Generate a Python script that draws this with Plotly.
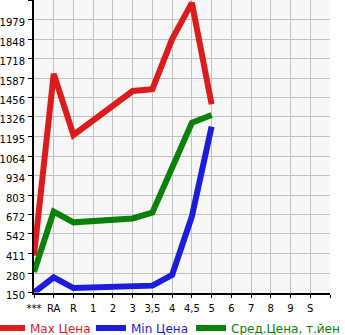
import plotly.graph_objects as go

categories = ["***", "RA", "R", "1", "2", "3", "3,5", "4", "4,5", "5", "6", "7", "8", "9", "S"]
max_price = [398, 1615, 1205, None, None, 1500, 1512, 1848, 2090, 1411, None, None, None, None, None]
min_price = [150, 252, 180, None, None, 190, 196, 268, 660, 1262, None, None, None, None, None]
avg_price = [288, 692, 620, None, None, 646, 686, 986, 1287, 1339, None, None, None, None, None]
y_ticks = [150, 280, 411, 542, 672, 803, 934, 1064, 1195, 1326, 1456, 1587, 1718, 1848, 1979]

x_idx = list(range(len(categories)))
font = "DejaVu Sans, Verdana, sans-serif"
W, H = 345, 335

series = [
    ("Max Цена", max_price, "#dc1c1c", "legend", 0, -10),
    ("Min Цена", min_price, "#1c1cdc", "legend2", 91, 0),
    ("Сред.Цена, т.йен", avg_price, "#0a820a", "legend3", 191, 0),
]

fig = go.Figure()
legends = {}
for name, vals, col, leg, lx, ind in series:
    fig.add_trace(go.Scatter(x=x_idx, y=vals, mode="lines", name=name, connectgaps=True,
                             line=dict(color=col, width=6), legend=leg))
    legends[leg] = dict(orientation="h", xref="container", yref="container",
                        x=lx / W, xanchor="left", y=1 - 328 / H, yanchor="middle",
                        font=dict(size=12, family=font, color=col), itemwidth=30,
                        indentation=ind,
                        bgcolor="rgba(0,0,0,0)", borderwidth=0)

top = y_ticks[-1] + (y_ticks[-1] - y_ticks[0]) / (len(y_ticks) - 1)
fig.update_layout(
    width=W, height=H,
    margin=dict(l=30, r=15, t=0, b=34),
    paper_bgcolor="white", plot_bgcolor="#f7f7f7",
    font=dict(family=font, size=10, color="black"),
    showlegend=True,
    **legends,
)

fig.update_xaxes(range=[0, len(categories)], tickmode="array",
                 tickvals=x_idx + [len(categories)], ticktext=categories + [""],
                 showgrid=True, gridcolor="#c0c0c0", gridwidth=1,
                 showline=True, linecolor="black", linewidth=2,
                 ticks="outside", ticklen=3, tickcolor="black", zeroline=False,
                 tickfont=dict(size=10), ticklabelstandoff=2)
fig.update_yaxes(range=[y_ticks[0], top], tickmode="array",
                 tickvals=y_ticks + [top], ticktext=[str(v) for v in y_ticks] + [""],
                 showgrid=True, gridcolor="#c0c0c0", gridwidth=1,
                 showline=True, linecolor="black", linewidth=2,
                 ticks="outside", ticklen=4, tickcolor="black", zeroline=False,
                 tickfont=dict(size=10), ticklabelshift=3, ticklabelstandoff=1)

fig.write_html("out.html")
